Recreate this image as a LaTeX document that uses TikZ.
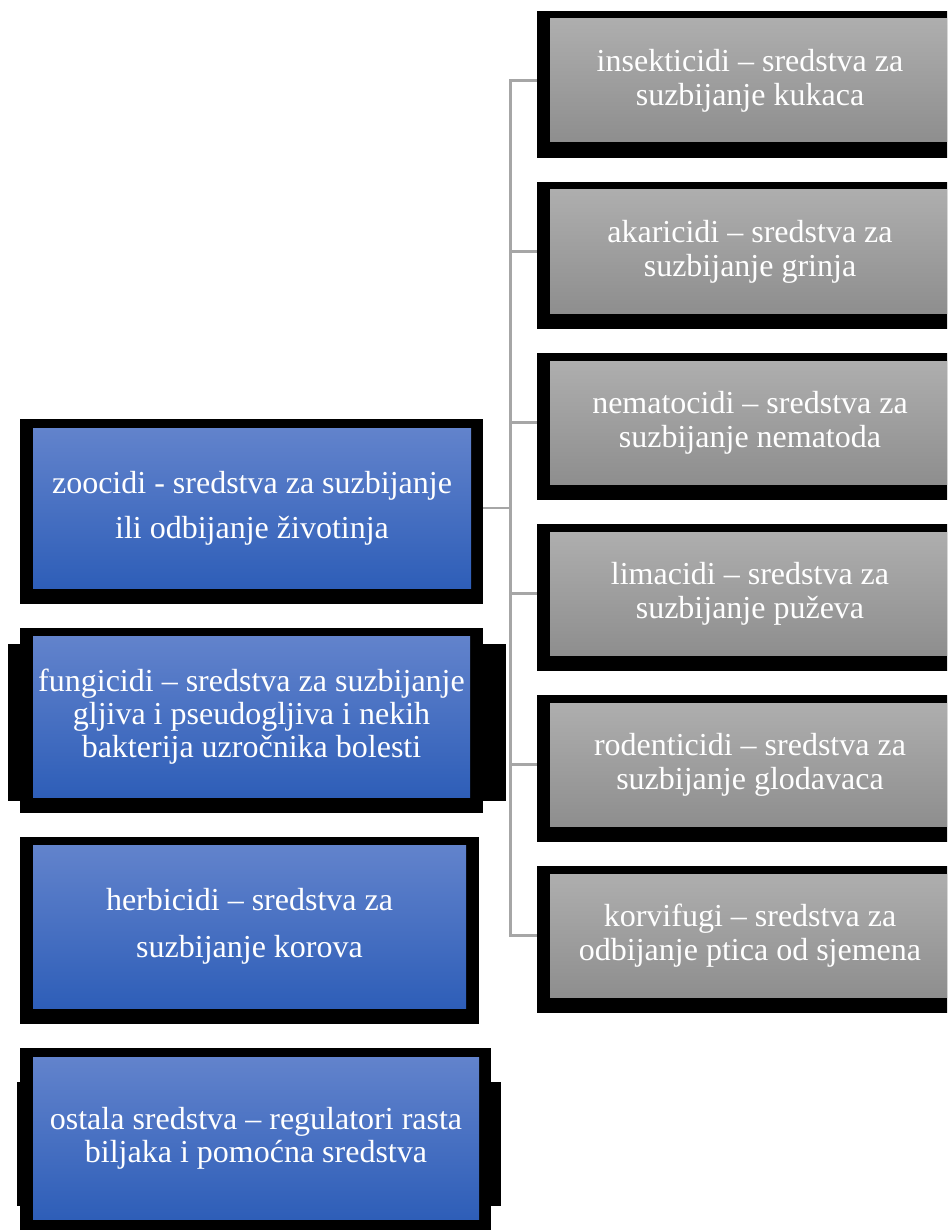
\documentclass[tikz,border=0pt]{standalone}
\usepackage{fontspec}
\setmainfont{Liberation Serif}
\usetikzlibrary{backgrounds}
\definecolor{bluetop}{HTML}{6283CC}
\definecolor{bluebot}{HTML}{2E5EB8}
\definecolor{graytop}{HTML}{AEAEAE}
\definecolor{graybot}{HTML}{8E8E8E}
\definecolor{lineg}{HTML}{A6A6A6}
\begin{document}
\begin{tikzpicture}[x=1pt,y=-1pt,
  blk/.style={fill=black,draw=none,inner sep=0pt,outer sep=0pt,anchor=north west},
  bluebox/.style={top color=bluetop,bottom color=bluebot,draw=none,inner sep=0pt,outer sep=0pt,
    anchor=north west,text=white,align=center},
  graybox/.style={top color=graytop,bottom color=graybot,draw=none,inner sep=0pt,outer sep=0pt,
    anchor=north west,text=white,align=center,font=\fontsize{32}{34}\selectfont,
    minimum width=400pt,minimum height=123pt},
  grayout/.style={blk,minimum width=426pt,minimum height=147pt},
  conn/.style={draw=lineg,line width=2.5pt}]
\useasboundingbox (0,0) rectangle (947,1230);
\clip (0,0) rectangle (947,1230);

% left column
\node[blk,minimum width=463pt,minimum height=185pt] (zooO) at (20,419) {};
\node[bluebox,minimum width=438pt,minimum height=160pt,font=\fontsize{32}{45}\selectfont] (zoo) at (33,428)
  {zoocidi - sredstva za suzbijanje\\ili odbijanje životinja};

\node[blk,minimum width=463pt,minimum height=185pt] (fungO) at (20,628) {};
\node[blk,minimum width=498pt,minimum height=157pt] (fungW) at (8,644) {};
\node[bluebox,minimum width=437pt,minimum height=161pt,font=\fontsize{32}{33}\selectfont] (fung) at (33,636)
  {fungicidi – sredstva za suzbijanje\\gljiva i pseudogljiva i nekih\\bakterija uzročnika bolesti};

\node[blk,minimum width=459pt,minimum height=187pt] (herbO) at (20,837) {};
\node[bluebox,minimum width=433pt,minimum height=163pt,font=\fontsize{32}{47}\selectfont] (herb) at (33,845)
  {herbicidi – sredstva za\\suzbijanje korova};

\node[blk,minimum width=471pt,minimum height=190pt] (ostO) at (20,1048) {};
\node[blk,minimum width=484pt,minimum height=124pt] (ostW) at (17,1082) {};
\node[bluebox,minimum width=446pt,minimum height=162pt,font=\fontsize{32}{33}\selectfont] (ost) at (33,1057)
  {ostala sredstva – regulatori rasta\\biljaka i pomoćna sredstva};

% right column
\node[grayout] (r1O) at (537,11) {};
\node[graybox] (r1) at (550,19) {insekticidi – sredstva za\\suzbijanje kukaca};
\node[grayout] (r2O) at (537,182) {};
\node[graybox] (r2) at (550,190) {akaricidi – sredstva za\\suzbijanje grinja};
\node[grayout] (r3O) at (537,353) {};
\node[graybox] (r3) at (550,361) {nematocidi – sredstva za\\suzbijanje nematoda};
\node[grayout] (r4O) at (537,524) {};
\node[graybox] (r4) at (550,532) {limacidi – sredstva za\\suzbijanje puževa};
\node[grayout] (r5O) at (537,695) {};
\node[graybox] (r5) at (550,703) {rodenticidi – sredstva za\\suzbijanje glodavaca};
\node[grayout] (r6O) at (537,866) {};
\node[graybox] (r6) at (550,874) {korvifugi – sredstva za\\odbijanje ptica od sjemena};

% connectors
\begin{scope}[on background layer]
\coordinate (bus) at (510.5,508);
\draw[conn] (zoo.east) -- (bus);
\draw[conn] (bus) |- (r1.west);
\draw[conn] (bus) |- (r2.west);
\draw[conn] (bus) |- (r3.west);
\draw[conn] (bus) |- (r4.west);
\draw[conn] (bus) |- (r5.west);
\draw[conn] (bus) |- (r6.west);
\end{scope}
\end{tikzpicture}
\end{document}
